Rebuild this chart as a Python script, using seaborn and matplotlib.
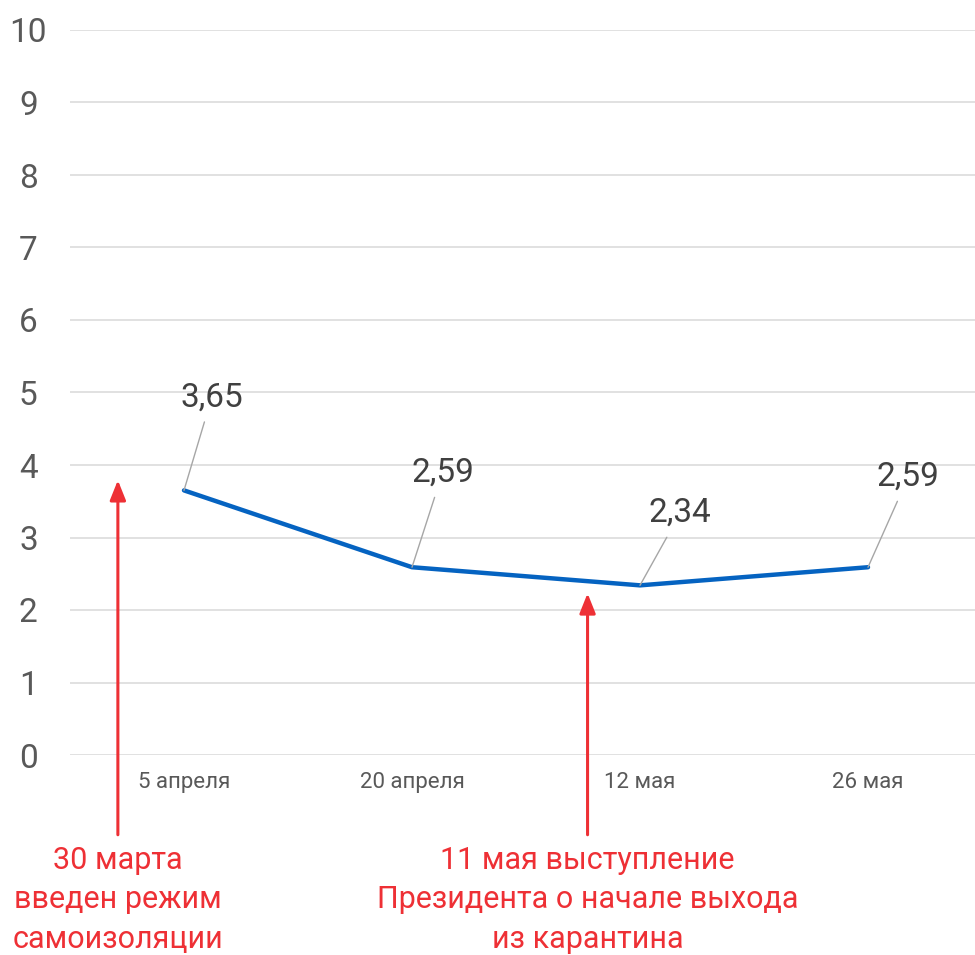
import matplotlib
matplotlib.use("Agg")
import matplotlib.pyplot as plt
import seaborn as sns
import pandas as pd
from matplotlib import font_manager

dates = ["5 апреля", "20 апреля", "12 мая", "26 мая"]
values = [3.65, 2.59, 2.34, 2.59]
value_labels = ["3,65", "2,59", "2,34", "2,59"]
y_ticks = [0, 1, 2, 3, 4, 5, 6, 7, 8, 9, 10]

event_texts = ["30 марта\nвведен режим\nсамоизоляции",
               "11 мая выступление\nПрезидента о начале выхода\nиз карантина"]
event_x = [-0.29, 1.77]
event_y = [3.79, 2.23]

# label offsets in points (dx, dy) for label center relative to point
label_offsets = [(20, 67), (22, 68), (29, 52), (29, 65)]

names = {f.name for f in font_manager.fontManager.ttflist}
narrow = "Liberation Sans Narrow" if "Liberation Sans Narrow" in names else "Roboto"

sns.set_theme(style="white")
plt.rcParams['font.family'] = [narrow, 'DejaVu Sans']

fig = plt.figure(figsize=(9.75, 9.55), dpi=100)
ax = fig.add_axes([70/975, 1 - 755/955, 912/975, 725/955])

df = pd.DataFrame({"date": dates, "value": values})
sns.lineplot(data=df, x="date", y="value", ax=ax, color="#0563C1",
             linewidth=3.2, sort=False)

ax.set_xlim(-0.5, 3.5)
ax.set_ylim(0, 10)
ax.set_yticks(y_ticks)
ax.set_yticklabels([str(t) for t in y_ticks], fontsize=24, color="#595959")
ax.tick_params(axis='y', length=0, pad=30)
ax.tick_params(axis='x', length=0, pad=12, labelsize=16, labelcolor="#595959")
ax.set_xlabel("")
ax.set_ylabel("")
ax.yaxis.grid(True, color="#D9D9D9", linewidth=1.1)
ax.set_axisbelow(True)
for s in ax.spines.values():
    s.set_visible(False)
for lab in ax.get_yticklabels():
    lab.set_horizontalalignment("center")

for i, (v, lab) in enumerate(zip(values, value_labels)):
    dx, dy = label_offsets[i]
    ax.annotate(lab, xy=(i, v), xytext=(dx, dy), textcoords="offset points",
                ha="center", va="center", fontsize=24, color="#404040",
                arrowprops=dict(arrowstyle="-", color="#A6A6A6", lw=1.0,
                                shrinkA=4, shrinkB=0))

red = "#EE3035"
for ex, ey, txt in zip(event_x, event_y, event_texts):
    ax.annotate("", xy=(ex, ey), xytext=(ex, -1.1), xycoords="data",
                textcoords="data", annotation_clip=False,
                arrowprops=dict(arrowstyle="-|>,head_length=1.0,head_width=0.4",
                                color=red, lw=2.2, shrinkA=0, shrinkB=0))
    ax.text(ex, -1.25, txt, ha="center", va="top", fontsize=22, color=red,
            family=["Roboto", "DejaVu Sans"], linespacing=1.46, clip_on=False)

fig.savefig("out.png", dpi=100)
